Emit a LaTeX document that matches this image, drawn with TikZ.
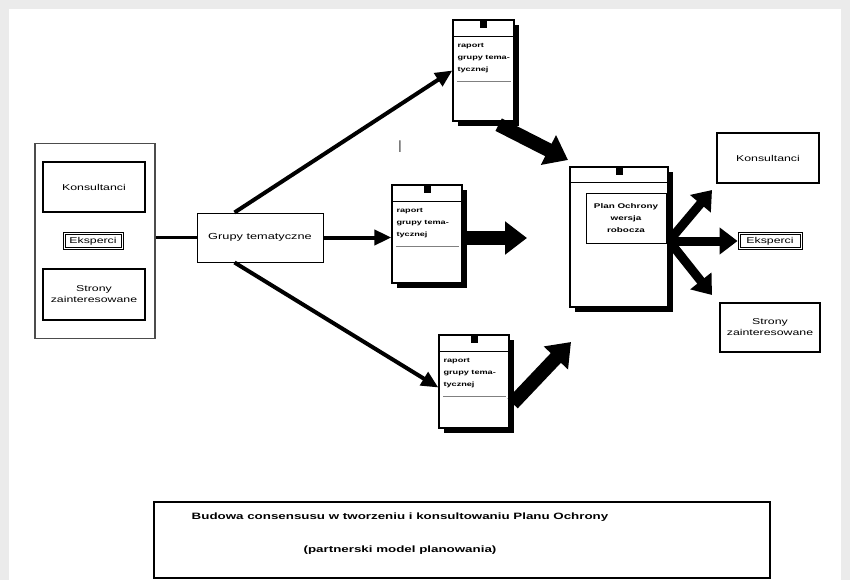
\documentclass[tikz,border=0pt]{standalone}
\usepackage{fontspec}
\setmainfont{Liberation Sans}
\newfontfamily\wf[FakeStretch=1.45]{Liberation Sans}
\usetikzlibrary{arrows.meta,calc}
\tikzset{
  lbox/.style={draw, line width=2pt, inner sep=0pt, align=center, font=\wf\fontsize{8.5}{11}\selectfont},
  ebox/.style={draw, line width=0.9pt, inner sep=0pt, align=center, font=\wf\fontsize{8.5}{10}\selectfont},
  docframe/.style={draw, line width=1.3pt, fill=white, inner sep=0pt},
  doctext/.style={anchor=north west, align=left, inner sep=0pt, font=\wf\bfseries\fontsize{6.3}{12}\selectfont},
  thinarrow/.style={line width=4pt, -{Triangle[length=17pt,width=15pt]}},
  fatarrow/.style={line width=14pt, -{Triangle[length=22pt,width=32pt]}},
  midarrow/.style={line width=9pt, -{Triangle[length=18pt,width=26pt]}}
}
\newcommand\docshape[6]{%
  \fill (#2+5,#3+5) rectangle (#4+5,#5+5);
  \node[docframe, minimum width={#4-#2}, minimum height={#5-#3}] (#1) at ({(#2+#4)/2},{(#3+#5)/2}) {};
  \fill ($(#1.north)+(-3.5,0)$) rectangle ($(#1.north)+(3.5,9)$);
  \draw[line width=0.6pt] ($(#1.north west)+(0,17)$) -- ($(#1.north east)+(0,17)$);
  \node[doctext] (#1t) at ($(#1.north west)+(5,24)$) {#6};
  \draw[line width=0.4pt, gray] ($(#1.north west)+(5,62)$) -- ($(#1.north east)+(-4,62)$);
}
\begin{document}
\begin{tikzpicture}[x=1pt,y=-1pt]
\useasboundingbox (0,0) rectangle (850,580);
\fill[black!8] (0,0) rectangle (850,580);
\fill[white] (9,9) rectangle (841,580);

% left group
\node[draw, line width=1.1pt, gray!60!black, minimum width=120, minimum height=195] (left) at (95,241) {};
\node[lbox, minimum width=102, minimum height=50] (kons1) at (94,187) {Konsultanci};
\node[ebox, minimum width=60, minimum height=17] (eks1) at (93,241) {Eksperci};
\draw[line width=0.9pt] ($(eks1.north west)+(2.5,2.5)$) rectangle ($(eks1.south east)+(-2.5,-2.5)$);
\node[lbox, minimum width=102, minimum height=51] (str1) at (94,294) {Strony\\zainteresowane};

% thematic groups
\node[draw, line width=1pt, minimum width=126, minimum height=49, font=\wf\fontsize{8.8}{10}\selectfont] (grupy) at (260,237.5) {Grupy tematyczne};
\draw[line width=3.5pt] (left.east |- grupy.west) -- (grupy.west);

% documents
\docshape{doc1}{453}{20}{514}{121}{raport\\grupy tema-\\tycznej}
\docshape{doc2}{392}{185}{462}{283}{raport\\grupy tema-\\tycznej}
\docshape{doc3}{439}{335}{509}{428}{raport\\grupy tema-\\tycznej}

% main document
\fill (575,172) rectangle (673,312);
\node[docframe, minimum width=98, minimum height=140] (main) at (619,237) {};
\fill ($(main.north)+(-3.5,0)$) rectangle ($(main.north)+(3.5,9)$);
\draw[line width=0.6pt] ($(main.north west)+(0,16)$) -- ($(main.north east)+(0,16)$);
\node[draw, line width=0.6pt, minimum width=80, minimum height=50, align=center, font=\wf\bfseries\fontsize{6.8}{12}\selectfont] (plan) at (626,218) {Plan Ochrony\\wersja\\robocza};

% right boxes
\node[lbox, minimum width=102, minimum height=50] (kons2) at (768,158) {Konsultanci};
\node[ebox, minimum width=64, minimum height=17] (eks2) at (770,241) {Eksperci};
\draw[line width=0.9pt] ($(eks2.north west)+(2.5,2.5)$) rectangle ($(eks2.south east)+(-2.5,-2.5)$);
\node[lbox, minimum width=100, minimum height=49] (str2) at (770,327) {Strony\\zainteresowane};

% stray mark
\node[font=\fontsize{17}{17}\selectfont, text=black!55] (mark) at (400,147) {I};

% thin arrows from thematic groups
\draw[thinarrow] ([xshift=38pt]grupy.north west) -- (doc1.west);
\draw[thinarrow] (grupy.east) -- (grupy.east -| doc2.west);
\draw[thinarrow] ([xshift=38pt]grupy.south west) -- ([yshift=-6pt]doc3.west);

% fat arrows towards the plan
\coordinate (c1) at (568,160);
\coordinate (c2) at (527,238);
\coordinate (c3) at (571,342);
\draw[fatarrow] ([xshift=-16pt,yshift=-3pt]doc1.south east) -- (c1);
\draw[fatarrow] (doc2.east |- c2) -- (c2);
\draw[fatarrow] ([yshift=-22pt,xshift=3pt]doc3.east) -- (c3);

% arrows out of the plan
\coordinate (r1) at (712,190);
\coordinate (r3) at (712,295);
\draw[midarrow] ([yshift=-2pt,xshift=2pt]main.east) -- (r1);
\draw[midarrow] ([yshift=-4pt,xshift=2pt]main.east) -- (eks2.west);
\draw[midarrow] ([yshift=-6pt,xshift=2pt]main.east) -- (r3);

% title box
\node[draw, line width=1.6pt, minimum width=616, minimum height=76] (title) at (462,540) {};
\node[align=center, font=\wf\bfseries\fontsize{9.2}{33}\selectfont] (titletext) at (400,534) {Budowa consensusu w tworzeniu i konsultowaniu Planu Ochrony\\(partnerski model planowania)};
\end{tikzpicture}
\end{document}
